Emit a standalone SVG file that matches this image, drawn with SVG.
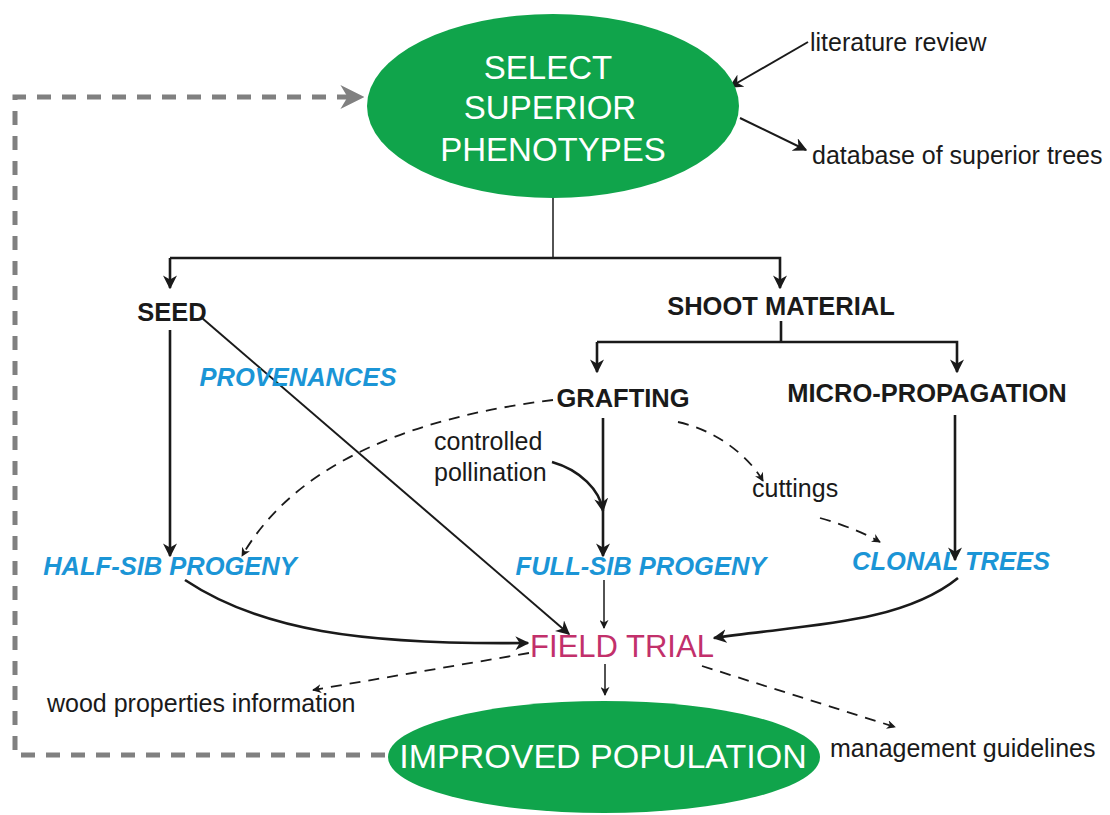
<svg xmlns="http://www.w3.org/2000/svg" width="1110" height="815" viewBox="0 0 1110 815">
<defs>
<marker id="ah" viewBox="0 0 10 10" refX="9" refY="5" markerWidth="9" markerHeight="9" markerUnits="userSpaceOnUse" orient="auto"><path d="M0,0 L10,5 L0,10 L3,5 z" fill="#1a1a1a"/></marker>
<marker id="ahs" viewBox="0 0 10 10" refX="9" refY="5" markerWidth="14" markerHeight="14" markerUnits="userSpaceOnUse" orient="auto"><path d="M0,0 L10,5 L0,10 L3,5 z" fill="#1a1a1a"/></marker>
<marker id="ahg" viewBox="0 0 10 10" refX="9" refY="5" markerWidth="24" markerHeight="24" markerUnits="userSpaceOnUse" orient="auto"><path d="M0,0 L10,5 L0,10 L3,5 z" fill="#808080"/></marker>
</defs>
<style>
.ell{fill:#10a44b}
.wt{font-family:"Liberation Sans",Arial,sans-serif;fill:#fff;font-size:33px;text-anchor:middle}
.bk{font-family:"Liberation Sans",Arial,sans-serif;fill:#1a1a1a;font-size:25.5px;font-weight:bold;text-anchor:middle}
.bl{font-family:"Liberation Sans",Arial,sans-serif;fill:#1b95d6;font-size:25.5px;font-weight:bold;font-style:italic;text-anchor:middle}
.nt{font-family:"Liberation Sans",Arial,sans-serif;fill:#1a1a1a;font-size:25px}
.ft{font-family:"Liberation Sans",Arial,sans-serif;fill:#c2306b;font-size:31px;text-anchor:middle}
.th{fill:none;stroke:#1a1a1a;stroke-width:2.6}
.tn{fill:none;stroke:#1a1a1a;stroke-width:1.5}
.md{fill:none;stroke:#1a1a1a;stroke-width:2}
.ds{fill:none;stroke:#1a1a1a;stroke-width:1.8;stroke-dasharray:11,8}
.gr{fill:none;stroke:#808080;stroke-width:5;stroke-dasharray:14,11}
</style>
<g id="connectors">
<path class="gr" d="M385,755 L15,755 L15,97 L362,97" marker-end="url(#ahg)"/>
<path class="md" d="M808,42 L730,87" marker-end="url(#ahs)"/>
<path class="md" d="M740,118 L806,150" marker-end="url(#ahs)"/>
<path class="tn" d="M553,198 L553,258"/>
<path class="th" d="M170,258 L780,258 L780,288" marker-end="url(#ahs)"/>
<path class="th" d="M170,258 L170,288" marker-end="url(#ahs)"/>
<path class="th" d="M781,321 L781,342"/>
<path class="th" d="M597,342 L957,342 L957,372" marker-end="url(#ahs)"/>
<path class="th" d="M597,342 L597,372" marker-end="url(#ahs)"/>
<path class="th" d="M170,330 L170,556" marker-end="url(#ahs)"/>
<path class="md" d="M202,318 L569,634" marker-end="url(#ahs)"/>
<path class="ds" d="M553,400 C430,415 300,455 242,556" marker-end="url(#ah)"/>
<path class="th" d="M552,462 C580,470 600,490 603,511" marker-end="url(#ahs)"/>
<path class="th" d="M603,418 L603,556" marker-end="url(#ahs)"/>
<path class="ds" d="M678,422 C715,430 748,455 763,481" marker-end="url(#ah)"/>
<path class="ds" d="M820,518 C845,525 868,535 880,542" marker-end="url(#ah)"/>
<path class="th" d="M955,415 L955,560" marker-end="url(#ahs)"/>
<path class="th" d="M185,580 C260,630 360,645 528,643" marker-end="url(#ahs)"/>
<path class="tn" d="M604,580 L604,628" marker-end="url(#ah)"/>
<path class="th" d="M958,578 C900,625 800,625 714,638" marker-end="url(#ahs)"/>
<path class="tn" d="M605,664 L605,695" marker-end="url(#ah)"/>
<path class="ds" d="M529,653 L313,690" marker-end="url(#ah)"/>
<path class="ds" d="M702,666 L895,727" marker-end="url(#ah)"/>
</g>
<g id="select">
<ellipse class="ell" cx="553" cy="106" rx="186" ry="92"/>
<text class="wt" x="548" y="79">SELECT</text>
<text class="wt" x="550" y="119">SUPERIOR</text>
<text class="wt" x="553" y="161">PHENOTYPES</text>
</g>
<g id="literature"><text class="nt" x="810" y="51">literature review</text></g>
<g id="database"><text class="nt" x="812" y="164">database of superior trees</text></g>
<g id="seed"><text class="bk" x="172" y="321">SEED</text></g>
<g id="shoot"><text class="bk" x="781" y="315">SHOOT MATERIAL</text></g>
<g id="provenances"><text class="bl" x="298" y="386">PROVENANCES</text></g>
<g id="grafting"><text class="bk" x="623" y="407">GRAFTING</text></g>
<g id="micro"><text class="bk" x="927" y="402">MICRO-PROPAGATION</text></g>
<g id="controlled"><text class="nt" x="434" y="450">controlled</text><text class="nt" x="434" y="481">pollination</text></g>
<g id="cuttings"><text class="nt" x="752" y="497">cuttings</text></g>
<g id="halfsib"><text class="bl" x="170" y="575">HALF-SIB PROGENY</text></g>
<g id="fullsib"><text class="bl" x="641" y="575">FULL-SIB PROGENY</text></g>
<g id="clonal"><text class="bl" x="951" y="570">CLONAL TREES</text></g>
<g id="fieldtrial"><text class="ft" x="622" y="657">FIELD TRIAL</text></g>
<g id="wood"><text class="nt" x="47" y="712">wood properties information</text></g>
<g id="management"><text class="nt" x="830" y="757">management guidelines</text></g>
<g id="improved">
<ellipse class="ell" cx="604" cy="757" rx="216" ry="56"/>
<text class="wt" x="603" y="768" style="font-size:34px">IMPROVED POPULATION</text>
</g>
</svg>
